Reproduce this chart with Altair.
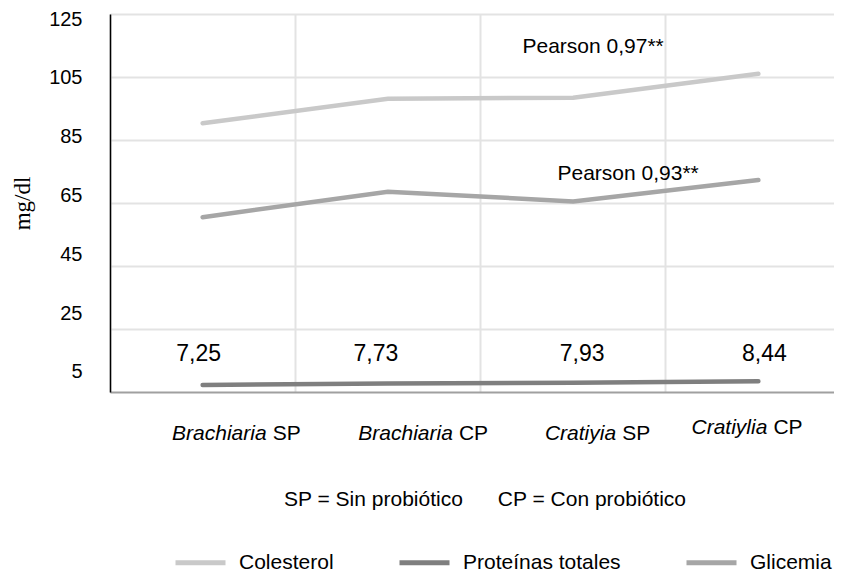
import altair as alt
import pandas as pd

# ---------------- data ----------------
CATEGORIES = ["Brachiaria SP", "Brachiaria CP", "Cratiyia SP", "Cratiylia CP"]
GENUS = ["Brachiaria", "Brachiaria", "Cratiyia", "Cratiylia"]
SUFFIX = ["SP", "CP", "SP", "CP"]
SERIES = ["Colesterol", "Proteínas totales", "Glicemia"]
COLESTEROL = [90.3, 98.1, 98.4, 106.0]
PROTEINAS = [7.25, 7.73, 7.93, 8.44]
GLICEMIA = [60.5, 68.6, 65.5, 72.3]
Y_TICKS = [5, 25, 45, 65, 85, 105, 125]
GRID_TICKS = [25, 45, 65, 85, 105, 125]
PEARSON_TEXT = ["Pearson 0,97**", "Pearson 0,93**"]
PEARSON_CAT = ["Cratiyia SP", "Cratiyia SP"]
PEARSON_Y = [114.5, 74.2]
CAPTION = "SP = Sin probiótico" + "\u00a0" * 6 + "CP = Con probiótico"

# ---------------- style ----------------
COLORS = ["#c9c9c9", "#7f7f7f", "#a6a6a6"]
FONT = "Liberation Sans"
LABEL_DX = [64, 65, 43, 9]
LABEL_Y = [420, 420, 420, 414]
PROT_DX = [-4, -12, 9, 6]
PROT_DY = [-31, -29.5, -29, -27.5]
PEARSON_DX = [20, 55]
GRID = "#e3e3e3"
W = 724          # visible plot width (page is clipped at the right)
X_RANGE = 741    # band scale spans past the visible edge, as in the reference

rows = []
for s, vals in zip(SERIES, [COLESTEROL, PROTEINAS, GLICEMIA]):
    for c, v in zip(CATEGORIES, vals):
        rows.append({"cat": c, "serie": s, "value": v})
lines_df = pd.DataFrame(rows)

x_axis = alt.Axis(labels=False, ticks=False, grid=True, bandPosition=0,
                  gridColor=GRID, gridWidth=2, domainColor="#a0a0a0",
                  domainWidth=2, title=None)
x_scale = alt.Scale(type="band", domain=CATEGORIES, range=[0, X_RANGE],
                    paddingInner=0, paddingOuter=0)
xenc = alt.X("cat:N", scale=x_scale, axis=x_axis, bandPosition=0.5, title=None)

y_scale = alt.Scale(domain=[5, 125], nice=False, zero=False)
y_axis = alt.Axis(values=GRID_TICKS, labels=False, ticks=False, domain=False,
                  grid=True, gridColor=GRID, gridWidth=2, title=None)

lines = alt.Chart(lines_df).mark_line(strokeWidth=4.5, strokeCap="round").encode(
    x=xenc,
    y=alt.Y("value:Q", scale=y_scale, axis=y_axis, title=None),
    color=alt.Color("serie:N", sort=SERIES,
                    scale=alt.Scale(domain=SERIES, range=COLORS),
                    legend=alt.Legend(orient="none", legendX=63, legendY=521,
                                      direction="horizontal", title=None,
                                      symbolType="stroke", symbolSize=2500,
                                      symbolStrokeWidth=5, labelFont=FONT,
                                      labelFontSize=21, labelColor="black",
                                      labelOffset=11, columnPadding=55,
                                      labelLimit=300)),
    detail="serie:N",
)

layers = [lines]

for i, c in enumerate(CATEGORIES):
    d = pd.DataFrame({"cat": [c], "value": [PROTEINAS[i]]})
    layers.append(
        alt.Chart(d).transform_calculate(
            lbl="replace(format(datum.value, '.2f'), '.', ',')"
        ).mark_text(dx=PROT_DX[i], dy=PROT_DY[i], fontSize=23, font=FONT,
                    color="black", baseline="middle").encode(
            x=xenc, y=alt.Y("value:Q", scale=y_scale, axis=y_axis), text="lbl:N")
    )

for t, c, v, dx in zip(PEARSON_TEXT, PEARSON_CAT, PEARSON_Y, PEARSON_DX):
    d = pd.DataFrame({"cat": [c], "value": [v], "txt": [t]})
    layers.append(
        alt.Chart(d).mark_text(dx=dx, fontSize=21, font=FONT, color="black",
                               baseline="middle").encode(
            x=xenc, y=alt.Y("value:Q", scale=y_scale, axis=y_axis), text="txt:N")
    )

for i, c in enumerate(CATEGORIES):
    d = pd.DataFrame({"cat": [c], "genus": [GENUS[i]], "suffix": [SUFFIX[i]]})
    base = alt.Chart(d)
    layers.append(
        base.mark_text(align="right", baseline="middle", dx=LABEL_DX[i],
                       fontStyle="italic", fontSize=21, font=FONT, color="black").encode(
            x=xenc, y=alt.value(LABEL_Y[i]), text="genus:N")
    )
    layers.append(
        base.mark_text(align="left", baseline="middle", dx=LABEL_DX[i] + 6,
                       fontSize=21, font=FONT, color="black").encode(
            x=xenc, y=alt.value(LABEL_Y[i]), text="suffix:N")
    )

caption = alt.Chart(pd.DataFrame({"t": [CAPTION]})).mark_text(
    fontSize=21, font=FONT, color="black", baseline="middle", align="center"
).encode(x=alt.value(375), y=alt.value(486), text="t:N")
layers.append(caption)

main = alt.layer(*layers)

tick_layer = alt.Chart(pd.DataFrame({"tick": Y_TICKS})).mark_point(opacity=0).encode(
    y=alt.Y("tick:Q",
            scale=alt.Scale(domain=[-1.8, 126.7], nice=False, zero=False),
            axis=alt.Axis(orient="left", values=Y_TICKS, grid=False, ticks=False,
                          labelPadding=28, domainColor="black", domainWidth=1.5,
                          labelFont=FONT, labelFontSize=20, labelColor="black",
                          format="d", title="mg/dl", titleFont="Liberation Serif",
                          titleFontSize=23, titleFontWeight="normal",
                          titleColor="black", titlePadding=14))
)

chart = alt.layer(main, tick_layer).resolve_scale(y="independent").properties(
    width=W, height=378,
    padding={"left": 102, "top": 6, "right": 0, "bottom": 180},
    autosize=alt.AutoSizeParams(type="none"),
).configure_view(stroke=None)

chart.save("out.html", embed_options={"renderer": "svg", "actions": False})
